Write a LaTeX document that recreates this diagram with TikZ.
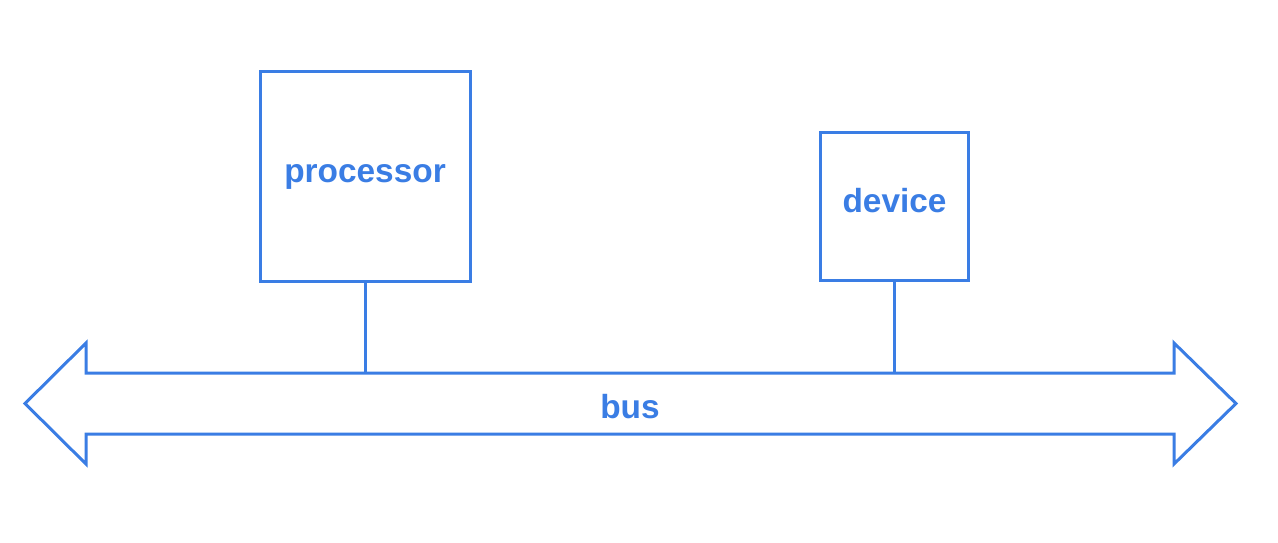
\documentclass[tikz,border=0pt]{standalone}
\usepackage{fontspec}
\setmainfont{Liberation Sans}
\usetikzlibrary{positioning}
\definecolor{lineblue}{HTML}{3A7DE4}

\begin{document}
\begin{tikzpicture}[
    x=0.5pt, y=-0.5pt,
    every node/.style={font=\fontsize{16.7}{20}\selectfont\bfseries, text=lineblue, text height=9pt, text depth=3pt},
    unit/.style={rectangle, draw=lineblue, line width=1.5pt},
    link/.style={draw=lineblue, line width=1.5pt}
]
\useasboundingbox (0,0) rectangle (1278,542);

% Units on the bus
\node[unit, minimum width=105pt, minimum height=105pt] (processor) at (365,176.5) {processor};
\node[unit, minimum width=74pt, minimum height=74pt] (device) at (894.5,206.5) {device};

% Bus outline
\coordinate (bustop) at (86,373);
\draw[link, line join=miter] (bustop) -- (1174,373) -- (1174,343) -- (1236,403.5) -- (1174,464) -- (1174,434)
    -- (86,434) -- (86,464) -- (25,403.5) -- (86,343) -- cycle;
\node (bus) at (630,412) {bus};

% Connections
\draw[link] (processor.south) -- (processor.south |- bustop);
\draw[link] (device.south) -- (device.south |- bustop);

\end{tikzpicture}
\end{document}
